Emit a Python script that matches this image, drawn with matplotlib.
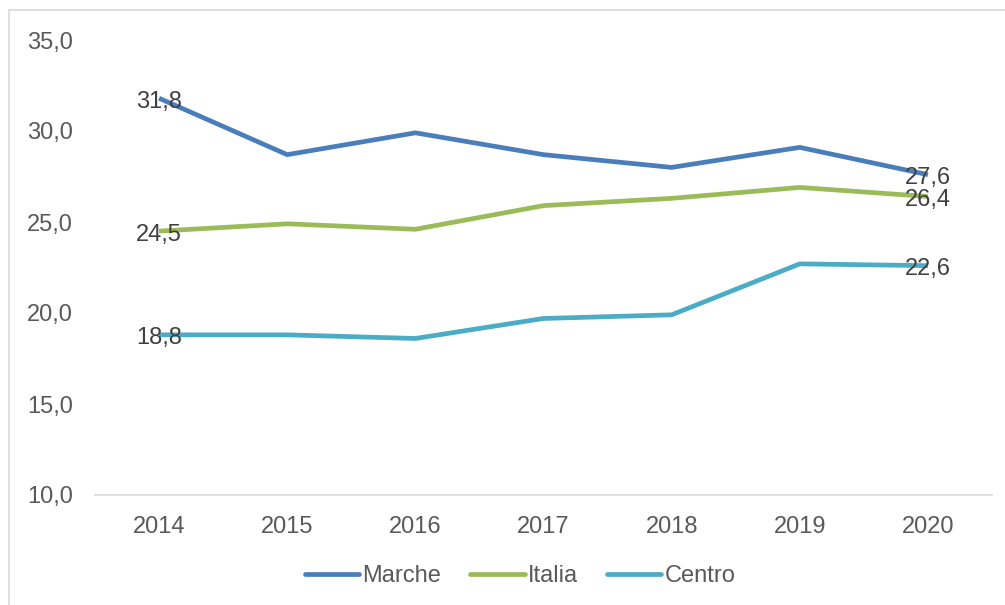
import matplotlib
matplotlib.use("Agg")
import matplotlib.pyplot as plt
from matplotlib.patches import Rectangle
from matplotlib.lines import Line2D

plt.rcParams['font.family'] = ['Liberation Sans', 'DejaVu Sans']

years = ["2014", "2015", "2016", "2017", "2018", "2019", "2020"]
marche = [31.8, 28.7, 29.9, 28.7, 28.0, 29.1, 27.6]
italia = [24.5, 24.9, 24.6, 25.9, 26.3, 26.9, 26.4]
centro = [18.8, 18.8, 18.6, 19.7, 19.9, 22.7, 22.6]
series_names = ["Marche", "Italia", "Centro"]
colors = ["#4A7EBB", "#9BBB59", "#4BACC6"]

FS = 17

fig = plt.figure(figsize=(10.05, 6.05), dpi=100)
W, H = 1005, 605
ax = fig.add_axes([95 / W, 1 - 495 / H, (992 - 95) / W, (495 - 40) / H])

x = list(range(len(years)))
for vals, name, c in zip([marche, italia, centro], series_names, colors):
    ax.plot(x, vals, color=c, lw=3.4, solid_capstyle='butt', label=name)
    for i in (0, len(vals) - 1):
        ax.annotate(f"{vals[i]:.1f}".replace('.', ','), (x[i], vals[i]),
                    xytext=(0, -2.5), textcoords='offset points',
                    ha='center', va='center', fontsize=FS, color='#404040')

ax.set_xlim(-0.5, 6.5)
ax.set_ylim(10, 35)
ax.set_yticks([10, 15, 20, 25, 30, 35])
ax.set_yticklabels([f"{v:.1f}".replace('.', ',') for v in [10, 15, 20, 25, 30, 35]])
ax.set_xticks(x)
ax.set_xticklabels(years)
ax.tick_params(axis='both', length=0, labelsize=FS, colors='#595959')
ax.tick_params(axis='y', pad=16)
ax.tick_params(axis='x', pad=15)
for s in ['top', 'right', 'left']:
    ax.spines[s].set_visible(False)
ax.spines['bottom'].set_color('#D9D9D9')
ax.spines['bottom'].set_linewidth(1.2)

handles = [Line2D([0], [0], color=c, lw=3.4, solid_capstyle='round') for c in colors]
fig.legend(handles, series_names, loc='center', bbox_to_anchor=(520 / W, 1 - 576 / H), ncol=3,
           frameon=False, fontsize=FS, labelcolor='#595959', handlelength=2.3,
           handletextpad=0.12, columnspacing=1.25)

fig.patches.append(Rectangle((9 / W, -0.1), 1.2, 1 - 10 / H + 0.1, transform=fig.transFigure,
                             fill=False, edgecolor='#D9D9D9', lw=1.2))

fig.savefig("out.png", dpi=100)
